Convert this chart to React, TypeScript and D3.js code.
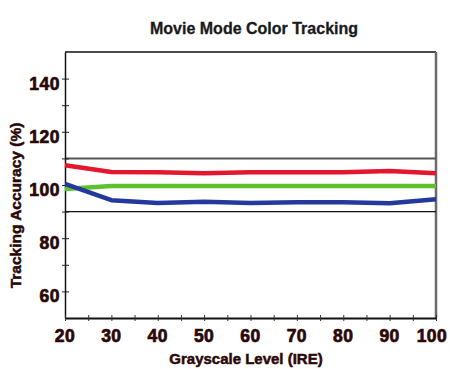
import { useEffect, useRef } from 'react';
import * as d3 from 'd3';

const levels = [20, 30, 40, 50, 60, 70, 80, 90, 100];
const redValues = [107.4, 104.9, 104.8, 104.4, 104.8, 104.8, 104.8, 105.3, 104.4];
const greenValues = [98.5, 99.6, 99.6, 99.6, 99.6, 99.6, 99.6, 99.6, 99.6];
const blueValues = [100.4, 94.3, 93.2, 93.7, 93.2, 93.5, 93.5, 93.1, 94.6];
const yTickLabels = [60, 80, 100, 120, 140];
const xTickLabels = [20, 30, 40, 50, 60, 70, 80, 90, 100];
const toleranceLines = [110, 90];

const series = [
  { name: 'green', values: greenValues, color: '#5ec22e' },
  { name: 'red', values: redValues, color: '#e3172d' },
  { name: 'blue', values: blueValues, color: '#24399c' },
];

export default function App() {
  const svgRef = useRef<SVGSVGElement>(null);

  useEffect(() => {
    if (!svgRef.current) return;
    const svg = d3.select(svgRef.current);
    svg.selectAll('*').remove();

    const width = 450;
    const height = 369;
    const margin = { top: 52, right: 14, bottom: 51, left: 65 };
    const font = 'Liberation Sans, Arial, sans-serif';
    const labelColor = '#2b0808';

    const x = d3
      .scaleLinear()
      .domain([20, 100])
      .range([margin.left, width - margin.right]);
    const y = d3
      .scaleLinear()
      .domain([50, 150])
      .range([height - margin.bottom, margin.top]);

    svg.append('rect').attr('width', width).attr('height', height).attr('fill', '#fff');

    // title
    svg
      .append('text')
      .attr('x', 254)
      .attr('y', 34)
      .attr('text-anchor', 'middle')
      .attr('font-family', font)
      .attr('font-weight', 'bold')
      .attr('font-size', 16)
      .attr('fill', '#1a1a1a')
      .attr('stroke', '#1a1a1a')
      .attr('stroke-width', 0.3)
      .text('Movie Mode Color Tracking');

    const g = svg.append('g');

    // frame: top black, right gray
    g.append('line')
      .attr('x1', x(20)).attr('x2', x(100))
      .attr('y1', y(150)).attr('y2', y(150))
      .attr('stroke', '#111').attr('stroke-width', 1.5);
    g.append('line')
      .attr('x1', x(100)).attr('x2', x(100))
      .attr('y1', y(150)).attr('y2', y(50))
      .attr('stroke', '#6a6a6a').attr('stroke-width', 2.5);

    // tolerance lines
    g.selectAll('line.tol')
      .data(toleranceLines)
      .join('line')
      .attr('class', 'tol')
      .attr('x1', x(20)).attr('x2', x(100))
      .attr('y1', (d) => y(d)).attr('y2', (d) => y(d))
      .attr('stroke', (d) => (d === 110 ? '#555' : '#111'))
      .attr('stroke-width', (d) => (d === 110 ? 2 : 1.3));

    // left axis
    g.append('g')
      .attr('transform', `translate(${margin.left},0)`)
      .call(
        d3.axisLeft(y).tickValues(d3.range(60, 150, 10)).tickSize(4).tickSizeOuter(0).tickFormat(() => '')
      )
      .call((a) => a.select('.domain').attr('stroke', '#111').attr('stroke-width', 1.5))
      .call((a) => a.selectAll('.tick line').attr('stroke', '#222').attr('x2', -3).attr('x1', 4));

    // bottom axis
    g.append('g')
      .attr('transform', `translate(0,${height - margin.bottom})`)
      .call(
        d3.axisBottom(x).tickValues(d3.range(20, 101, 5)).tickSize(3).tickSizeOuter(0).tickFormat(() => '')
      )
      .call((a) => a.select('.domain').attr('stroke', '#111').attr('stroke-width', 2.2))
      .call((a) => a.selectAll('.tick line').attr('stroke', '#333').attr('y1', -3));

    // y tick labels
    g.selectAll('text.ylab')
      .data(yTickLabels)
      .join('text')
      .attr('class', 'ylab')
      .attr('x', margin.left - 5)
      .attr('y', (d) => y(d) + 11)
      .attr('text-anchor', 'end')
      .attr('font-family', font)
      .attr('font-weight', 'bold')
      .attr('font-size', 17.5)
      .attr('letter-spacing', 0.5)
      .attr('fill', labelColor)
      .attr('stroke', labelColor)
      .attr('stroke-width', 0.7)
      .text((d) => d);

    // x tick labels
    g.selectAll('text.xlab')
      .data(xTickLabels)
      .join('text')
      .attr('class', 'xlab')
      .attr('x', (d) => (d === 100 ? x(d) - 4 : x(d)))
      .attr('y', 341.5)
      .attr('text-anchor', 'middle')
      .attr('font-family', font)
      .attr('font-weight', 'bold')
      .attr('font-size', 17.5)
      .attr('letter-spacing', 0.5)
      .attr('fill', labelColor)
      .attr('stroke', labelColor)
      .attr('stroke-width', 0.7)
      .text((d) => d);

    // series
    const line = d3
      .line<number>()
      .x((_, i) => x(levels[i]))
      .y((d) => y(d));

    series.forEach((s) => {
      g.append('path')
        .datum(s.values)
        .attr('d', line)
        .attr('fill', 'none')
        .attr('stroke', s.color)
        .attr('stroke-width', 4.5)
        .attr('stroke-linejoin', 'round');
    });

    // axis titles
    svg
      .append('text')
      .attr('x', 246)
      .attr('y', 364)
      .attr('text-anchor', 'middle')
      .attr('font-family', font)
      .attr('font-weight', 'bold')
      .attr('font-size', 15)
      .attr('fill', labelColor)
      .attr('stroke', labelColor)
      .attr('stroke-width', 0.5)
      .text('Grayscale Level (IRE)');

    svg
      .append('text')
      .attr('transform', 'translate(21,205.5) rotate(-90)')
      .attr('text-anchor', 'middle')
      .attr('font-family', font)
      .attr('font-weight', 'bold')
      .attr('font-size', 15.5)
      .attr('fill', labelColor)
      .attr('stroke', labelColor)
      .attr('stroke-width', 0.5)
      .text('Tracking Accuracy (%)');
  }, []);

  return (
    <div style={{ position: 'absolute', left: 0, top: 0 }}>
      <svg ref={svgRef} width={450} height={369} style={{ display: 'block' }} />
    </div>
  );
}
